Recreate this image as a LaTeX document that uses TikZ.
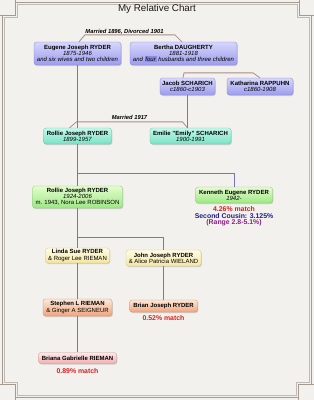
\documentclass[tikz,border=0pt]{standalone}
\usepackage{fontspec}
\setmainfont{Liberation Sans}
\usetikzlibrary{shadows}
\definecolor{bg}{HTML}{F3F1ED}
\definecolor{frameA}{HTML}{A39B91}
\definecolor{frameB}{HTML}{C2BAB0}
\definecolor{kidc}{HTML}{8070C0}
\definecolor{marc}{HTML}{A88E86}
\definecolor{blueT}{HTML}{D6D6FC}\definecolor{blueB}{HTML}{9C9CEE}
\definecolor{tealT}{HTML}{C6F8EA}\definecolor{tealB}{HTML}{78E2C4}
\definecolor{grnT}{HTML}{E4FCCE}\definecolor{grnB}{HTML}{9CE884}
\definecolor{yelT}{HTML}{FFFCE6}\definecolor{yelB}{HTML}{F4E6A0}
\definecolor{orT}{HTML}{FDE8D8}\definecolor{orB}{HTML}{F0A47C}
\definecolor{pkT}{HTML}{FDEAEA}\definecolor{pkB}{HTML}{F0B0B0}
\definecolor{hl}{HTML}{8C8CE4}
\definecolor{mred}{HTML}{D42020}
\definecolor{mnavy}{HTML}{1C1C8C}
\definecolor{mpurp}{HTML}{8C1C8C}
\tikzset{
  person/.style={rounded corners=2.5pt, inner sep=0.5pt, align=center,
    font=\fontsize{6}{6.2}\selectfont,
    drop shadow={opacity=0.3, shadow xshift=0.8pt, shadow yshift=-1pt},
    draw=#1B!85!black, line width=0.3pt, top color=#1T, bottom color=#1B},
  kid/.style={draw=kidc, line width=0.8pt},
  marr/.style={draw=marc, line width=0.8pt},
  mlab/.style={font=\fontsize{5.8}{6}\bfseries\itshape\selectfont, inner sep=0pt},
  mtxt/.style={font=\fontsize{6.9}{7}\bfseries\selectfont, inner sep=0pt},
  fline/.style={line width=0.6pt}
}
\begin{document}
\begin{tikzpicture}[x=1pt,y=-1pt]
\useasboundingbox (0,0) rectangle (314,400);
\fill[bg] (0,0) rectangle (314,400);
% frame
\draw[fline, frameA] (15,2) -- (299,2) -- (299,15) -- (311,15) -- (311,384) -- (298,384) -- (298,397) -- (15,397) -- (15,384) -- (2,384) -- (2,15) -- (15,15) -- cycle;
\draw[fline, frameA] (15,2) -- (15,0) (2,15) -- (0,15) (299,2) -- (299,0) (311,15) -- (314,15)
  (311,384) -- (314,384) (298,397) -- (298,400) (15,397) -- (15,400) (2,384) -- (0,384);
\draw[fline, frameB] (17,4) -- (297,4) -- (297,17) -- (309,17) -- (309,382) -- (296,382) -- (296,395) -- (17,395) -- (17,382) -- (4,382) -- (4,17) -- (17,17) -- cycle;
% title
\node[font=\fontsize{9.8}{10}\selectfont, text=black!90] (title) at (157,9) {My Relative Chart};
% people
\node[person=blue, minimum width=87pt, minimum height=23pt] (eug) at (77.5,53.5)
  {\textbf{Eugene Joseph RYDER}\\\textit{1875-1946}\\\textit{and six wives and two children}};
\node[person=blue, minimum width=107pt, minimum height=23pt] (bert) at (183.5,53.5)
  {\textbf{Bertha DAUGHERTY}\\\textit{1881-1918}\\\textit{and {\setlength{\fboxsep}{0.8pt}\colorbox{hl}{four}} husbands and three children}};
\node[person=blue, minimum width=55pt, minimum height=17pt] (jac) at (187.5,86.5)
  {\textbf{Jacob SCHARICH}\\\textit{c1860-c1903}};
\node[person=blue, minimum width=66pt, minimum height=17pt] (kat) at (260,86.5)
  {\textbf{Katharina RAPPUHN}\\\textit{c1860-1908}};
\node[person=teal, minimum width=68pt, minimum height=16pt] (roll) at (77.5,136)
  {\textbf{Rollie Joseph RYDER}\\\textit{1899-1957}};
\node[person=teal, minimum width=81pt, minimum height=16pt] (emi) at (190.5,136)
  {\textbf{Emilie "Emily" SCHARICH}\\\textit{1900-1991}};
\node[person=grn, minimum width=90pt, minimum height=22pt] (roll2) at (77.5,197)
  {\textbf{Rollie Joseph RYDER}\\\textit{1924-2006}\\m. 1943, Nora Lee ROBINSON};
\node[person=grn, minimum width=77pt, minimum height=16pt] (ken) at (234,195)
  {\textbf{Kenneth Eugene RYDER}\\\textit{1942-}};
\node[person=yel, minimum width=64pt, minimum height=15pt] (lin) at (77.5,255.5)
  {\textbf{Linda Sue RYDER}\\\& Roger Lee RIEMAN};
\node[person=yel, minimum width=75pt, minimum height=16pt] (john) at (163.5,258)
  {\textbf{John Joseph RYDER}\\\& Alice Patricia WIELAND};
\node[person=or, minimum width=69pt, minimum height=17pt] (steph) at (77.5,307.5)
  {\textbf{Stephen L RIEMAN}\\\& Ginger A SEIGNEUR};
\node[person=or, minimum width=68pt, minimum height=12pt] (brian) at (163.5,306)
  {\textbf{Brian Joseph RYDER}};
\node[person=pk, minimum width=78pt, minimum height=11pt] (bri) at (77.5,358)
  {\textbf{Briana Gabrielle RIEMAN}};
% match texts
\node[mtxt, text=mred] (k1) at (234,209) {4.26\% match};
\node[mtxt, text=mnavy] (k2) at (234,215.8) {Second Cousin: 3.125\%};
\node[mtxt, text=mpurp] (k3) at (234,222.6) {(Range 2.8-5.1\%)};
\node[mtxt, text=mred] (bm) at (163.5,318) {0.52\% match};
\node[mtxt, text=mred] (brm) at (77.5,371) {0.89\% match};
% marriage labels
\node[mlab] (ml1) at (124.5,32) {Married 1896, Divorced 1901};
\node[mlab] (ml2) at (129.5,117) {Married 1917};
% marriage lines
\coordinate (ej) at (jac.south |- emi.north);
\draw[marr] ([xshift=1.5pt]eug.north) -- ++(6,-7) -- ([shift={(-8.5pt,7pt)}]bert.north) -- ([xshift=-1.5pt]bert.north);
\draw[marr] ([xshift=-4.5pt]jac.north) -- ++(1,-5) -- ([shift={(-7pt,5pt)}]kat.north) -- (kat.north);
\draw[marr] ([xshift=-8pt]roll.north) -- ++(7,-6) -- ([shift={(-5pt,6pt)}]ej) -- (ej);
% descent lines
\draw[kid] (eug.south) -- (roll.north);
\draw[kid] (jac.south) -- (ej);
\draw[kid] (roll.south) -- (roll2.north);
\coordinate (b1) at (77.5,173);
\draw[kid] (b1) -| (ken.north);
\draw[kid] (roll2.south) -- (lin.north);
\coordinate (b2) at (77.5,237);
\draw[kid] (b2) -| (john.north);
\draw[kid] (lin.south) -- (steph.north);
\draw[kid] (john.south) -- (brian.north);
\draw[kid] (steph.south) -- (bri.north);
\end{tikzpicture}
\end{document}
